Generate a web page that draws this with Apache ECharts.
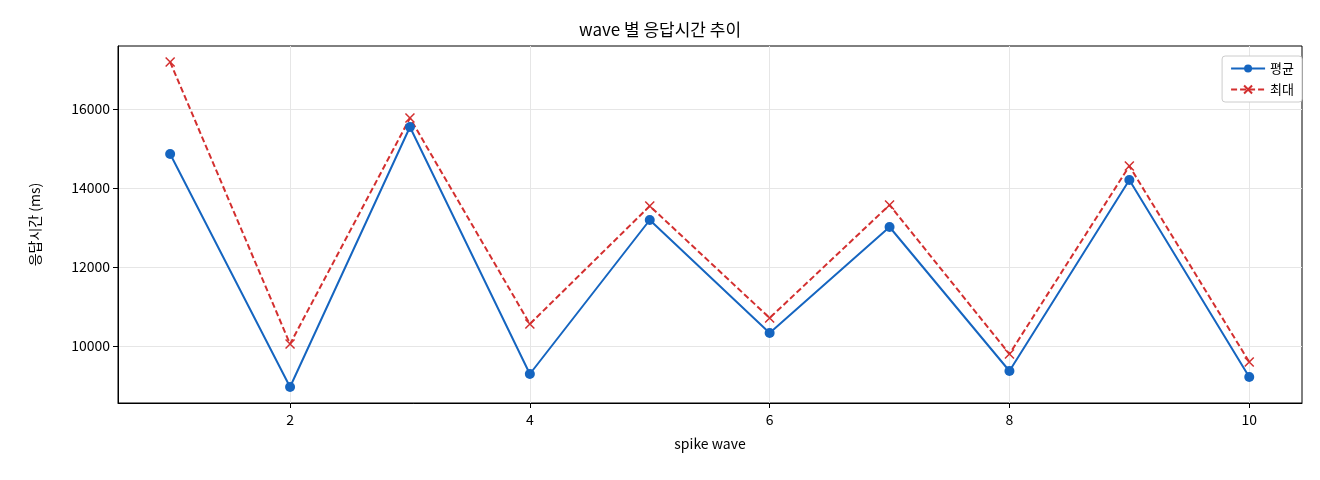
<!DOCTYPE html>
<html><head><meta charset="utf-8">
<script src="https://cdn.jsdelivr.net/npm/echarts@6/dist/echarts.min.js"></script>
<style>html,body{margin:0;padding:0;background:#fff}#c{width:1320px;height:480px}</style>
</head><body><div id="c"></div>
<script>
const waves = [1,2,3,4,5,6,7,8,9,10];
const avgMs = [14861,8962,15544,9291,13190,10329,13013,9367,14203,9215];
const maxMs = [17190,10050,15772,10557,13544,10709,13570,9797,14557,9595];
const xTicks = [2,4,6,8,10];
const yTicks = [10000,12000,14000,16000];
const F = 'Noto Sans CJK KR';
const chart = echarts.init(document.getElementById('c'));
chart.setOption({
  animation:false,
  textStyle:{fontFamily:F},
  title:{text:'wave 별 응답시간 추이',left:'center',top:16,textStyle:{fontFamily:F,fontSize:17,fontWeight:'normal',color:'#000'}},
  legend:{right:18,top:56,orient:'vertical',itemGap:8,backgroundColor:'#fff',borderColor:'#ccc',borderWidth:1,borderRadius:3,padding:[6,8],
    textStyle:{fontFamily:F,fontSize:13,color:'#000'},itemWidth:34,itemHeight:10,
    data:[{name:'평균'},{name:'최대'}]},
  grid:{left:118,right:18,top:46,bottom:77,show:true,borderColor:'#000',borderWidth:1},
  xAxis:{type:'value',min:0.565,max:10.44,name:'spike wave',nameLocation:'middle',nameGap:34,
    nameTextStyle:{fontFamily:F,fontSize:14,color:'#000'},
    axisLine:{show:true,onZero:false,lineStyle:{color:'#000'}},
    axisTick:{show:true,customValues:xTicks,lineStyle:{color:'#000'}},
    axisLabel:{customValues:xTicks,fontSize:14,color:'#000',fontFamily:F,margin:10},
    splitLine:{show:true,lineStyle:{color:'#e6e6e6'}}},
  yAxis:{type:'value',min:8557,max:17595,name:'응답시간 (ms)',nameLocation:'middle',nameGap:76,
    nameTextStyle:{fontFamily:F,fontSize:14,color:'#000'},
    axisLine:{show:true,lineStyle:{color:'#000'}},
    axisTick:{show:true,customValues:yTicks,lineStyle:{color:'#000'}},
    axisLabel:{customValues:yTicks,fontSize:14,color:'#000',fontFamily:F,formatter:v=>String(v)},
    splitLine:{show:true,lineStyle:{color:'#e6e6e6'}}},
  series:[
    {name:'평균',type:'line',data:waves.map((w,i)=>[w,avgMs[i]]),symbol:'circle',symbolSize:10,
      itemStyle:{color:'#1565c0'},lineStyle:{color:'#1565c0',width:2}},
    {name:'최대',type:'line',data:waves.map((w,i)=>[w,maxMs[i]]),
      symbol:'path://M0,0L10,10M10,0L0,10',symbolSize:9,
      itemStyle:{color:'none',borderColor:'#d32f2f',borderWidth:1.5},
      lineStyle:{color:'#d32f2f',width:2,type:[6,3]}}
  ]
});
</script></body></html>
